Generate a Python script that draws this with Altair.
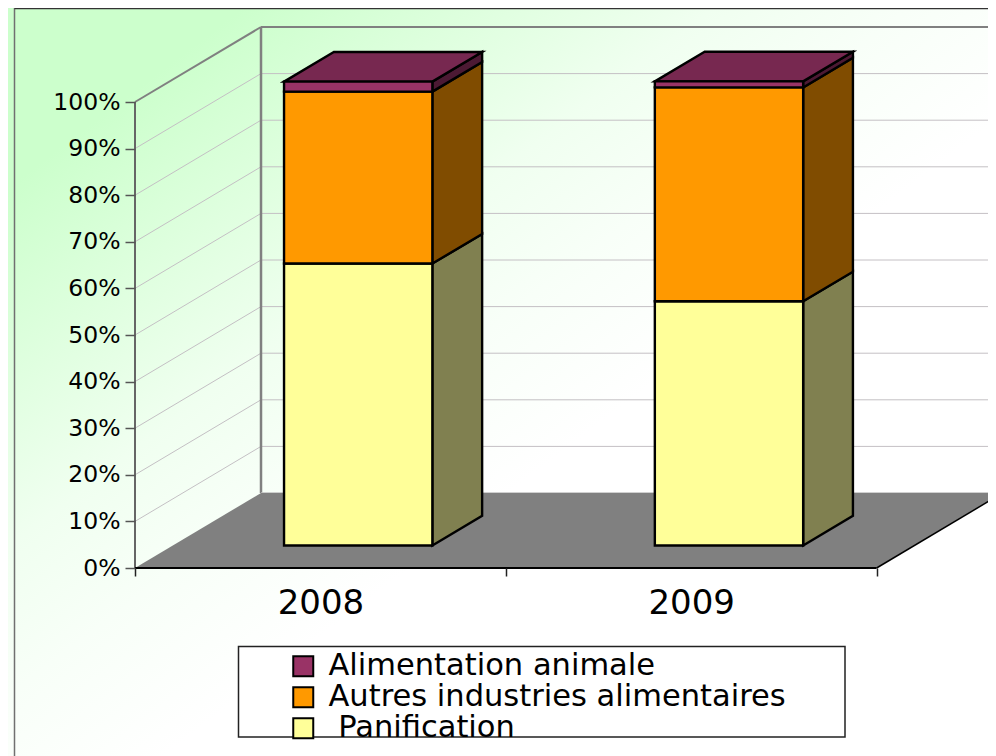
import altair as alt
import pandas as pd

# ---- values -----------------------------------------------------------
years = ["2008", "2009"]
series = ["Alimentation animale", "Autres industries alimentaires", "\u200b\u00a0Panification"]
panification = [60.5, 52.4]
autres = [36.9, 45.9]
alimentation = [2.15, 1.3]
y_ticks = [0, 10, 20, 30, 40, 50, 60, 70, 80, 90, 100]

fills = ["#FFFF99", "#FF9900", "#993366"]
side_fills = ["#808050", "#804C00", "#4C1933"]
top_fill = "#772850"

# ---- layout -------------------------------------------------------------
W, H = 980, 748
X0, UNIT = 127.0, 370.8      # pixel of category 0 edge, pixels per category
Y0, PCT = 560.0, 4.66        # pixel of 0 %, pixels per percent
DEPTH_X, DEPTH_Y = 126.0 / UNIT, 75.0 / PCT   # full floor depth in data units
BAR_W = 0.4
D_FRONT, D_BACK = 0.30, 0.695
FONT = "DejaVu Sans"

x_scale = alt.Scale(domain=[-X0 / UNIT, (W - X0) / UNIT], nice=False, zero=False)
y_scale = alt.Scale(domain=[(Y0 - H) / PCT, Y0 / PCT], nice=False, zero=False)


def px(u, d=0.0):
    return u + d * DEPTH_X


def py(p, d=0.0):
    return p + d * DEPTH_Y


# ---- build tables ---------------------------------------------------------
fronts, sides, tops = [], [], []
for i, year in enumerate(years):
    left = i + 0.5 - BAR_W / 2
    right = i + 0.5 + BAR_W / 2
    base = 0.0
    for name, vals, fill, side in zip(
        [series[2], series[1], series[0]],
        [panification, autres, alimentation],
        fills,
        side_fills,
    ):
        top = base + vals[i]
        fronts.append(
            dict(series=name, x=px(left, D_FRONT), x2=px(right, D_FRONT),
                 y=py(base, D_FRONT), y2=py(top, D_FRONT))
        )
        face = f"{year}-{name}"
        for d in (D_FRONT, D_BACK):
            sides.append(dict(face=face, shade=side, x=px(right, d),
                              y=py(base, d), y2=py(top, d)))
        base = top
    for d in (D_FRONT, D_BACK):
        tops.append(dict(face=year, shade=top_fill, y=py(base, d),
                         x=px(left, d), x2=px(right, d)))

lines = []
for t in y_ticks[1:]:
    wid = 2 if t == 100 else 1
    col = "#808080" if t == 100 else "#C4C0C4"
    lines.append(dict(x=px(0), x2=px(0, 1), y=py(t), y2=py(t, 1), c=col, w=wid))
    lines.append(dict(x=px(0, 1), x2=px(2, 1), y=py(t, 1), y2=py(t, 1), c=col, w=wid))
lines.append(dict(x=px(0, 1), x2=px(0, 1), y=py(0, 1), y2=py(100, 1), c="#808080", w=2.5))
lines.append(dict(x=px(0, 1), x2=px(2, 1), y=py(0, 1), y2=py(0, 1), c="#C0C0C0", w=1.5))
edge_lines = [
    dict(x=px(0), x2=px(0), y=py(0), y2=py(100), c="#666666", w=2),
    dict(x=px(0), x2=px(2), y=py(0), y2=py(0), c="#000000", w=2),
    dict(x=px(2), x2=px(2, 1), y=py(0), y2=py(0, 1), c="#000000", w=1.5),
]
floor = [
    dict(y=py(0), x=px(0), x2=px(2)),
    dict(y=py(0, 1), x=px(0, 1), x2=px(2, 1)),
]

x_axis = alt.Axis(
    values=[0, 0.5, 1, 1.5, 2], offset=-(H - Y0), orient="bottom", domain=False,
    grid=False, tickSize=8, tickWidth=1.5, title=None,
    tickColor=alt.expr("datum.value % 1 == 0 ? '#222222' : 'transparent'"),
    labelExpr="datum.value == 0.5 ? '2008' : datum.value == 1.5 ? '2009' : ''",
    labelFont=FONT, labelFontSize=34, labelColor="#000000", labelPadding=10,
    labelOverlap=False, zindex=1,
)
y_axis = alt.Axis(
    values=y_ticks, offset=-X0, orient="left", domain=False, grid=False,
    tickSize=10, tickWidth=1.5, tickColor="#555555", title=None,
    labelExpr="datum.value + '%'", labelFont=FONT, labelFontSize=23.5,
    labelColor="#000000", labelPadding=5, labelOverlap=False, zindex=1,
)
X = lambda f="x": alt.X(f"{f}:Q", scale=x_scale, axis=x_axis, stack=None)
Y = lambda f="y": alt.Y(f"{f}:Q", scale=y_scale, axis=y_axis, stack=None)
one = pd.DataFrame({"k": [0]})

# ---- layers -----------------------------------------------------------------
gradient = alt.LinearGradient(
    gradient="linear", x1=0, y1=0, x2=1, y2=1,
    stops=[
        alt.GradientStop(color="#CCFFCC", offset=0),
        alt.GradientStop(color="#CCFFCC", offset=0.12),
        alt.GradientStop(color="#F0FFF0", offset=0.36),
        alt.GradientStop(color="#F8FFF8", offset=0.46),
        alt.GradientStop(color="#FFFFFF", offset=0.58),
        alt.GradientStop(color="#FFFFFF", offset=1),
    ],
)
bg = alt.Chart(one).mark_rect(color=gradient).encode(
    x=alt.value(0), x2=alt.value(W), y=alt.value(0), y2=alt.value(H)
)
frame_left = alt.Chart(one).mark_rule(color="#707070", strokeWidth=1.5).encode(
    x=alt.value(6.5), y=alt.value(0), y2=alt.value(H)
)
frame_top = alt.Chart(one).mark_rule(color="#333333", strokeWidth=1.5).encode(
    y=alt.value(0.5), x=alt.value(6.5), x2=alt.value(W)
)


def rules(rows):
    return alt.Chart(pd.DataFrame(rows)).mark_rule(clip=True).encode(
        x=X(), x2="x2:Q", y=Y(), y2="y2:Q",
        stroke=alt.Stroke("c:N", scale=None, legend=None),
        strokeWidth=alt.StrokeWidth("w:Q", scale=None, legend=None),
    )


floor_area = alt.Chart(pd.DataFrame(floor)).mark_area(
    orient="horizontal", clip=True, color="#808080"
).encode(y=Y(), x=X(), x2="x2:Q")

side_faces = alt.Chart(pd.DataFrame(sides)).mark_area(
    orient="vertical", stroke="#000000", strokeWidth=2.4
).encode(
    x=X(), y=Y(), y2="y2:Q", detail="face:N",
    fill=alt.Fill("shade:N", scale=None, legend=None),
)
top_faces = alt.Chart(pd.DataFrame(tops)).mark_area(
    orient="horizontal", stroke="#000000", strokeWidth=2.4
).encode(
    y=Y(), x=X(), x2="x2:Q", detail="face:N",
    fill=alt.Fill("shade:N", scale=None, legend=None),
)
front_faces = alt.Chart(pd.DataFrame(fronts)).mark_rect(
    stroke="#000000", strokeWidth=2.4
).encode(
    x=X(), x2="x2:Q", y=Y(), y2="y2:Q",
    color=alt.Color(
        "series:N",
        scale=alt.Scale(domain=series, range=["#993366", "#FF9900", "#FFFF99"]),
        legend=alt.Legend(
            orient="none", legendX=280, legendY=643, title=None, padding=0,
            symbolType="square", symbolSize=400, symbolStrokeWidth=2,
            symbolStrokeColor="#000000", symbolOpacity=1,
            labelFont=FONT, labelFontSize=30.5, labelColor="#000000",
            labelOffset=10, rowPadding=-6, labelLimit=600, zindex=2,
        ),
    ),
)

legend_box = alt.Chart(one).mark_rect(fill="#FFFFFF", stroke="#222222", strokeWidth=1.5).encode(
    x=alt.value(230.5), x2=alt.value(837), y=alt.value(638.5), y2=alt.value(729)
)

chart = alt.layer(
    bg, frame_left, frame_top, legend_box, rules(lines), floor_area, rules(edge_lines),
    side_faces, top_faces, front_faces,
).properties(
    width=W, height=H, padding=0, autosize=alt.AutoSizeParams(type="none")
).configure_view(stroke=None)

chart.save("out.html", embed_options={"renderer": "svg", "actions": False})
